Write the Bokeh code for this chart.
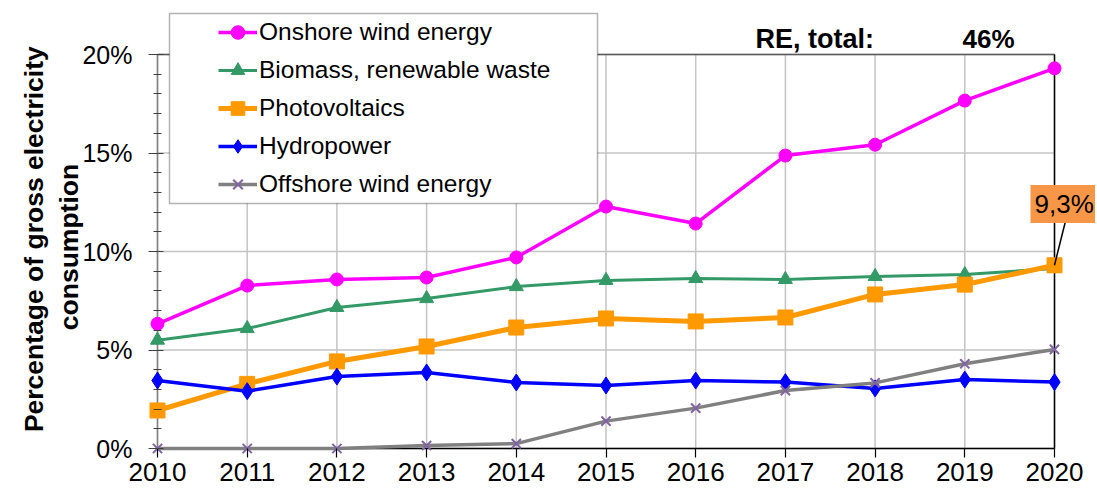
from math import pi
from bokeh.plotting import figure
from bokeh.models import Range1d, FixedTicker, Legend, LegendItem, Label, BoxAnnotation
from bokeh.embed import file_html
from bokeh.resources import INLINE

# ---------------- data ----------------
years = [2010, 2011, 2012, 2013, 2014, 2015, 2016, 2017, 2018, 2019, 2020]
onshore = [6.33, 8.27, 8.58, 8.68, 9.70, 12.28, 11.42, 14.87, 15.42, 17.66, 19.30]
biomass = [5.50, 6.09, 7.16, 7.61, 8.22, 8.53, 8.63, 8.58, 8.73, 8.83, 9.14]
photovoltaics = [1.93, 3.28, 4.42, 5.18, 6.14, 6.60, 6.45, 6.65, 7.82, 8.32, 9.30]
hydropower = [3.45, 2.91, 3.65, 3.86, 3.35, 3.20, 3.45, 3.37, 3.05, 3.50, 3.37]
offshore = [0.00, 0.00, 0.00, 0.15, 0.25, 1.39, 2.05, 2.94, 3.33, 4.30, 5.03]

series_names = ["Onshore wind energy", "Biomass, renewable waste", "Photovoltaics",
                "Hydropower", "Offshore wind energy"]
y_ticks = [0, 5, 10, 15, 20]
y_tick_labels = ["0%", "5%", "10%", "15%", "20%"]
pv_label = "9,3%"
total_label = "RE, total:"
total_value = "46%"

FONT = "Liberation Sans"

# ---------------- figure (frame covers whole canvas) ----------------
W, H = 1095, 491
x_px = 89.7    # pixels per year
y_px = 19.7    # pixels per percent
x0_px = 157    # pixel position of first year
y0_px = 448    # pixel position of 0 %
x_lo, x_hi = years[0], years[-1]
y_lo, y_hi = y_ticks[0], y_ticks[-1]

p = figure(
    frame_width=W, frame_height=H,
    x_range=Range1d(x_lo - x0_px / x_px, x_lo + (W - x0_px) / x_px),
    y_range=Range1d(y_lo - (H - y0_px) / y_px, y_lo + y0_px / y_px),
    min_border=0, min_border_left=0, min_border_right=0,
    min_border_top=0, min_border_bottom=0,
    output_backend="svg", toolbar_location=None,
)
p.outline_line_color = None
p.background_fill_color = "white"
p.border_fill_color = "white"
p.xgrid.visible = False
p.ygrid.visible = False

# axes drawn at fixed data positions (axis lines drawn separately below)
p.xaxis.fixed_location = y_lo
p.yaxis.fixed_location = x_lo
p.xaxis.ticker = FixedTicker(ticks=years)
p.xaxis.major_label_overrides = {y: str(y) for y in years}
p.yaxis.ticker = FixedTicker(ticks=y_ticks, minor_ticks=list(range(y_lo, y_hi + 1)))
p.yaxis.major_label_overrides = {t: l for t, l in zip(y_ticks, y_tick_labels)}

p.xaxis.axis_line_color = None
p.xaxis.major_tick_line_color = "black"
p.xaxis.major_tick_line_width = 1.2
p.xaxis.major_tick_out = 9
p.xaxis.major_tick_in = 0
p.xaxis.minor_tick_line_color = None
p.xaxis.major_label_text_font = FONT
p.xaxis.major_label_text_font_size = "26px"
p.xaxis.major_label_text_color = "black"
p.xaxis.major_label_standoff = 5

p.yaxis.axis_line_color = None
p.yaxis.major_tick_line_color = "#404040"
p.yaxis.major_tick_out = 9
p.yaxis.major_tick_in = 6
p.yaxis.minor_tick_line_color = "#404040"
p.yaxis.minor_tick_out = 4
p.yaxis.minor_tick_in = 4
p.yaxis.major_label_text_font = FONT
p.yaxis.major_label_text_font_size = "25px"
p.yaxis.major_label_text_color = "black"
p.yaxis.major_label_standoff = 16

# grid lines limited to the plot area
GRID = "#c4c4c4"
p.segment(x0=years, y0=[y_lo] * len(years), x1=years, y1=[y_hi] * len(years),
          line_color=GRID, line_width=1.5)
p.segment(x0=[x_lo] * len(y_ticks), y0=y_ticks, x1=[x_hi] * len(y_ticks), y1=y_ticks,
          line_color=GRID, line_width=1.5)

# plot frame lines: left axis, top border, right border, bottom axis
p.segment(x0=[x_lo], y0=[y_lo], x1=[x_lo], y1=[y_hi], line_color="#808080", line_width=1.5)
p.segment(x0=[x_lo], y0=[y_hi], x1=[x_hi], y1=[y_hi], line_color="#595959", line_width=1.5)
p.segment(x0=[x_hi], y0=[y_lo], x1=[x_hi], y1=[y_hi], line_color="black", line_width=1.5)
p.segment(x0=[x_lo], y0=[y_lo], x1=[x_hi], y1=[y_lo], line_color="black", line_width=1.5)

# ---------------- series ----------------
styles = [
    (onshore, "#FF00FF", 3.5, "circle", 13, "#FF00FF", "#FF00FF"),
    (biomass, "#339966", 3, "triangle", 14, "#339966", "#339966"),
    (photovoltaics, "#FF9900", 5, "square", 15, "#FF9900", "#FF9900"),
    (hydropower, "#0000FF", 3.5, "diamond", 17, "#0000FF", "#0000FF"),
    (offshore, "#808080", 3.5, "x", 13, None, "#8064A2"),
]
items = []
for name, (vals, lc, lw, mk, ms, fc, mlc) in zip(series_names, styles):
    rl = p.line(years, vals, line_color=lc, line_width=lw)
    rm = p.scatter(years, vals, marker=mk, size=ms, fill_color=fc, line_color=mlc,
                   line_width=2 if mk == "x" else 1)
    items.append(LegendItem(label=name, renderers=[rl, rm]))

# ---------------- legend ----------------
legend_box = BoxAnnotation(left=169, right=597, bottom=H - 203, top=H - 13,
                           left_units="screen", right_units="screen",
                           bottom_units="screen", top_units="screen",
                           fill_color="white", fill_alpha=1.0,
                           line_color="black", line_width=1.5)
p.add_layout(legend_box)

legend = Legend(items=items, location=(218, H - 201), padding=0, margin=0, spacing=4,
                glyph_width=39, glyph_height=34, label_height=34, label_standoff=2,
                label_text_font=FONT, label_text_font_size="24.5px", label_text_color="black",
                border_line_alpha=0, background_fill_alpha=0)
p.add_layout(legend)

# ---------------- texts ----------------
p.add_layout(Label(x=33.5, y=H - 235, x_units="screen", y_units="screen",
                   text="Percentage  of gross electricity", angle=pi / 2,
                   text_align="center", text_baseline="alphabetic",
                   text_font=FONT, text_font_style="bold", text_font_size="26.5px",
                   text_color="black"))
p.add_layout(Label(x=68.5, y=H - 246.5, x_units="screen", y_units="screen",
                   text="consumption", angle=pi / 2,
                   text_align="center", text_baseline="alphabetic",
                   text_font=FONT, text_font_style="bold", text_font_size="26.5px",
                   text_color="black"))

p.add_layout(Label(x=755, y=H - 38, x_units="screen", y_units="screen", text=total_label,
                   text_align="left", text_baseline="alphabetic",
                   text_font=FONT, text_font_style="bold", text_font_size="27px",
                   text_color="black"))
p.add_layout(Label(x=962, y=H - 38, x_units="screen", y_units="screen", text=total_value,
                   text_align="left", text_baseline="alphabetic",
                   text_font=FONT, text_font_style="bold", text_font_size="26px",
                   text_color="black"))

# PV callout
p.segment(x0=[years[-1] + 0.12], y0=[photovoltaics[-1] + 2.2],
          x1=[years[-1]], y1=[photovoltaics[-1]], line_color="black", line_width=1.5)
p.add_layout(Label(x=1030, y=H - 203.5, x_units="screen", y_units="screen", text=pv_label,
                   text_align="left", text_baseline="middle", padding=4,
                   background_fill_color="#F79646",
                   text_font=FONT, text_font_size="26px", text_color="black"))

open("out.html", "w").write(file_html(p, INLINE))
